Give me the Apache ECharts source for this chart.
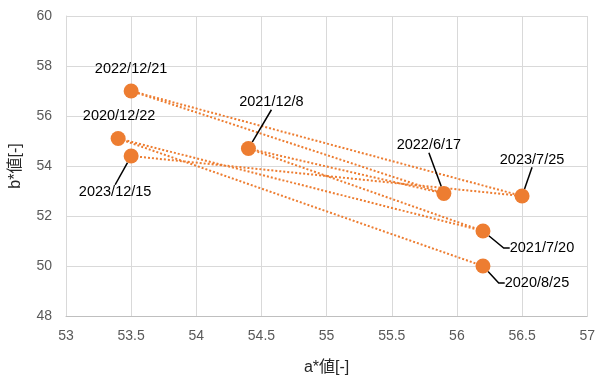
<!DOCTYPE html>
<html>
<head>
<meta charset="utf-8">
<script src="https://cdn.jsdelivr.net/npm/echarts@6/dist/echarts.min.js"></script>
<style>
  html, body { margin: 0; padding: 0; background: #fff; }
  #chart { width: 598px; height: 381px; }
</style>
</head>
<body>
<div id="chart"></div>
<script>
// Measurement dates, in chronological order
const dates = ['2020/8/25', '2020/12/22', '2021/7/20', '2021/12/8', '2022/6/17', '2022/12/21', '2023/7/25', '2023/12/15'];
// a* values
const aValues = [56.2, 53.4, 56.2, 54.4, 55.9, 53.5, 56.5, 53.5];
// b* values
const bValues = [50.0, 55.1, 51.4, 54.7, 52.9, 57.0, 52.8, 54.4];

// Label placement (offset from the marker, px) and leader-line settings per date
const labelPlacement = {
  '2020/8/25':  { dx: 54, dy: 17, line: true, length2: 6 },
  '2020/12/22': { dx: 1,  dy: -22, line: false },
  '2021/7/20':  { dx: 59, dy: 17, line: true, length2: 6 },
  '2021/12/8':  { dx: 23, dy: -46, line: true },
  '2022/6/17':  { dx: -15, dy: -48, line: true },
  '2022/12/21': { dx: 0,  dy: -22, line: false },
  '2023/7/25':  { dx: 10, dy: -36, line: true },
  '2023/12/15': { dx: -16, dy: 36, line: true }
};

const FONT = '"Liberation Sans", Arial, "Noto Sans CJK JP", sans-serif';
const ORANGE = '#ED7D31';

const pathData = dates.map((d, i) => [aValues[i], bValues[i]]);
const pointData = dates.map((d, i) => {
  const p = labelPlacement[d];
  return {
    name: d,
    value: [aValues[i], bValues[i]],
    labelLine: { show: p.line, length2: p.length2 || 0 }
  };
});

const chart = echarts.init(document.getElementById('chart'), null, { renderer: 'canvas' });
chart.setOption({
  animation: false,
  backgroundColor: '#fff',
  grid: { left: 65, right: 9, top: 16, bottom: 61 },
  xAxis: {
    type: 'value',
    min: 53, max: 57, interval: 0.5,
    name: 'a*値[-]',
    nameLocation: 'middle',
    nameGap: 44,
    nameTextStyle: { fontFamily: FONT, fontSize: 16, color: '#262626' },
    axisLine: { show: true, lineStyle: { color: '#BFBFBF', width: 1 } },
    axisTick: { show: false },
    axisLabel: { fontFamily: FONT, fontSize: 14, color: '#595959', margin: 13 },
    splitLine: { show: true, lineStyle: { color: '#D9D9D9', width: 1 } }
  },
  yAxis: {
    type: 'value',
    min: 48, max: 60, interval: 2,
    name: 'b*値[-]',
    nameLocation: 'middle',
    nameGap: 42,
    nameRotate: 90,
    nameTextStyle: { fontFamily: FONT, fontSize: 16, color: '#262626' },
    axisLine: { show: true, lineStyle: { color: '#D9D9D9', width: 1 } },
    axisTick: { show: false },
    axisLabel: { fontFamily: FONT, fontSize: 14, color: '#595959', margin: 14 },
    splitLine: { show: true, lineStyle: { color: '#D9D9D9', width: 1 } }
  },
  series: [
    {
      type: 'line',
      data: pathData,
      symbol: 'none',
      silent: true,
      z: 2,
      lineStyle: { color: ORANGE, width: 2, type: [2, 2], cap: 'butt' }
    },
    {
      type: 'scatter',
      data: pointData,
      symbol: 'circle',
      symbolSize: 15,
      z: 3,
      itemStyle: { color: ORANGE, opacity: 1 },
      label: {
        show: true,
        position: 'inside',
        formatter: p => p.name,
        fontFamily: FONT,
        fontSize: 14.5,
        color: '#000'
      },
      labelLine: {
        show: true,
        minTurnAngle: 0,
        lineStyle: { color: '#000', width: 1.5 }
      },
      labelLayout: params => {
        const p = labelPlacement[dates[params.dataIndex]];
        return { dx: p.dx, dy: p.dy };
      }
    }
  ]
});
</script>
</body>
</html>
